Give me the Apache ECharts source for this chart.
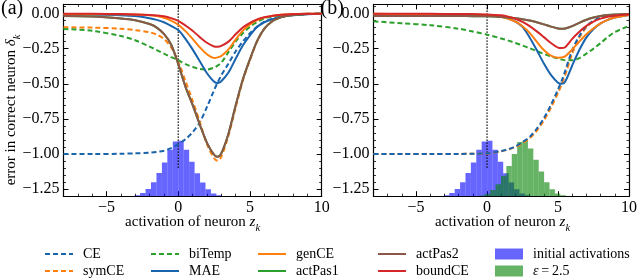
<!DOCTYPE html>
<html><head><meta charset="utf-8">
<script src="https://cdn.jsdelivr.net/npm/echarts@6/dist/echarts.min.js"></script>
<style>html,body{margin:0;padding:0;background:#fff}#c{width:640px;height:279px}</style>
</head><body><div id="c"></div>
<script>
// ---------- data ----------
const zA = [-8,-6,-4,-3,-2,-1.5,-1,-0.5,0,0.5,1,1.5,2,2.5,2.75,3,3.5,4,4.5,5,5.5,6,6.5,7,7.5,8,9,10];
const ceA     = [-1.000,-1.000,-0.998,-0.995,-0.990,-0.985,-0.976,-0.958,-0.930,-0.895,-0.845,-0.775,-0.665,-0.545,-0.490,-0.440,-0.355,-0.270,-0.200,-0.140,-0.092,-0.060,-0.038,-0.025,-0.016,-0.010,-0.004,-0.002];
const symA    = [-0.098,-0.100,-0.108,-0.118,-0.133,-0.150,-0.180,-0.240,-0.340,-0.480,-0.620,-0.770,-0.930,-1.030,-1.048,-1.020,-0.870,-0.670,-0.480,-0.330,-0.200,-0.110,-0.060,-0.032,-0.018,-0.010,-0.004,-0.001];
const biA     = [-0.110,-0.123,-0.160,-0.190,-0.235,-0.260,-0.285,-0.310,-0.332,-0.360,-0.380,-0.395,-0.398,-0.385,-0.370,-0.350,-0.275,-0.200,-0.140,-0.094,-0.060,-0.035,-0.022,-0.014,-0.009,-0.006,-0.002,-0.001];
const maeA    = [-0.005,-0.007,-0.012,-0.018,-0.033,-0.045,-0.062,-0.088,-0.118,-0.180,-0.255,-0.340,-0.425,-0.485,-0.495,-0.482,-0.420,-0.322,-0.228,-0.155,-0.096,-0.062,-0.042,-0.028,-0.018,-0.012,-0.005,-0.002];
const genA    = [-0.003,-0.004,-0.005,-0.007,-0.012,-0.018,-0.030,-0.050,-0.080,-0.125,-0.180,-0.240,-0.290,-0.316,-0.312,-0.302,-0.255,-0.185,-0.122,-0.077,-0.046,-0.028,-0.018,-0.011,-0.007,-0.004,-0.002,-0.001];
const pas2A   = [-0.018,-0.021,-0.035,-0.048,-0.075,-0.100,-0.145,-0.220,-0.360,-0.520,-0.650,-0.790,-0.920,-1.005,-1.020,-0.995,-0.855,-0.655,-0.470,-0.325,-0.195,-0.108,-0.058,-0.032,-0.018,-0.010,-0.004,-0.001];
const pas1A   = pas2A;
const boundA  = [-0.002,-0.002,-0.004,-0.006,-0.010,-0.014,-0.020,-0.033,-0.052,-0.085,-0.122,-0.168,-0.208,-0.234,-0.236,-0.230,-0.200,-0.148,-0.100,-0.067,-0.042,-0.026,-0.017,-0.011,-0.007,-0.004,-0.002,-0.001];

const zB = [-8,-6,-4,-2,-1,0,1,1.5,2,2.5,3,3.5,4,4.5,5,5.25,5.5,6,6.5,7,7.5,8,8.5,9,10];
const ceB     = [-1.000,-1.000,-1.000,-0.999,-0.998,-0.995,-0.978,-0.965,-0.945,-0.915,-0.878,-0.820,-0.745,-0.650,-0.540,-0.480,-0.410,-0.260,-0.160,-0.090,-0.052,-0.030,-0.019,-0.012,-0.004];
const symB    = [-1.000,-1.000,-1.000,-0.999,-0.998,-0.996,-0.980,-0.968,-0.950,-0.922,-0.888,-0.835,-0.762,-0.670,-0.565,-0.505,-0.440,-0.285,-0.172,-0.098,-0.056,-0.032,-0.020,-0.012,-0.004];
const biB     = [-0.055,-0.070,-0.083,-0.108,-0.128,-0.150,-0.178,-0.193,-0.210,-0.228,-0.247,-0.267,-0.287,-0.305,-0.320,-0.327,-0.332,-0.333,-0.318,-0.285,-0.250,-0.210,-0.168,-0.132,-0.088];
const maeB    = [-0.004,-0.004,-0.005,-0.007,-0.009,-0.012,-0.022,-0.035,-0.058,-0.095,-0.170,-0.260,-0.355,-0.437,-0.493,-0.500,-0.485,-0.370,-0.260,-0.170,-0.110,-0.070,-0.045,-0.028,-0.010];
const genB    = [-0.002,-0.003,-0.003,-0.005,-0.007,-0.011,-0.024,-0.037,-0.058,-0.090,-0.138,-0.200,-0.260,-0.300,-0.314,-0.313,-0.305,-0.255,-0.200,-0.148,-0.105,-0.070,-0.045,-0.028,-0.010];
const pas2B   = [-0.018,-0.018,-0.018,-0.018,-0.019,-0.020,-0.024,-0.028,-0.034,-0.041,-0.050,-0.062,-0.077,-0.093,-0.106,-0.109,-0.107,-0.090,-0.066,-0.044,-0.028,-0.017,-0.011,-0.007,-0.003];
const pas1B   = pas2B;
const boundB  = [-0.001,-0.001,-0.002,-0.003,-0.004,-0.006,-0.013,-0.022,-0.037,-0.060,-0.090,-0.127,-0.168,-0.210,-0.243,-0.246,-0.240,-0.180,-0.130,-0.088,-0.057,-0.036,-0.023,-0.015,-0.007];

// histograms: bin centres and bar heights (in y units above the bottom of the axis)
const histBinWidth = 0.38;
const initCenters = [-2.85,-2.47,-2.09,-1.71,-1.33,-0.95,-0.57,-0.19,0.19,0.57,0.95,1.33,1.71,2.09,2.47,2.85];
const initHeights = [0.006,0.022,0.052,0.100,0.165,0.240,0.330,0.390,0.395,0.330,0.245,0.163,0.098,0.050,0.020,0.006];
const epsCenters  = [-0.35,0.03,0.41,0.79,1.17,1.55,1.93,2.31,2.69,3.07,3.45,3.83,4.21,4.59,4.97,5.35];
const epsHeights  = [0.005,0.018,0.045,0.085,0.145,0.215,0.300,0.385,0.395,0.340,0.260,0.175,0.100,0.050,0.020,0.006];

// vertical dotted reference line at z = 0
const refLineZ = [0, 0];
const refLineV = [0.065, -1.10];

// axis ticks
const xMajor = [-5, 0, 5, 10];
const xMinor = [-8,-7,-6,-4,-3,-2,-1,1,2,3,4,6,7,8,9];
const yMajor = [-1.25, -1.00, -0.75, -0.50, -0.25, 0.00];
const yMinor = [-1.20,-1.15,-1.10,-1.05,-0.95,-0.90,-0.85,-0.80,-0.70,-0.65,-0.60,-0.55,-0.45,-0.40,-0.35,-0.30,-0.20,-0.15,-0.10,-0.05,0.05];

// legend entries (column-major, 5 columns x 2 rows)
const legendNames = ['CE','symCE','biTemp','MAE','genCE','actPas1','actPas2','boundCE','initial activations','ε=2.5'];

const X_MIN = -8, X_MAX = 10, Y_MIN = -1.30, Y_MAX = 0.065;

// ---------- style ----------
const FONT = 'Liberation Serif';
const C = {blue:'#1a63ad', orange:'#ff7f0e', green:'#2ca02c', brown:'#8c564b', red:'#d62728'};
const HIST_BLUE = 'rgba(0,0,255,0.6)';
const HIST_GREEN = 'rgba(0,128,0,0.6)';
const DASH = [5, 3];
const legendStyle = {
  'CE':{kind:'line', color:C.blue, dash:true},
  'symCE':{kind:'line', color:C.orange, dash:true},
  'biTemp':{kind:'line', color:C.green, dash:true},
  'MAE':{kind:'line', color:C.blue, dash:false},
  'genCE':{kind:'line', color:C.orange, dash:false},
  'actPas1':{kind:'line', color:C.green, dash:false},
  'actPas2':{kind:'line', color:C.brown, dash:false},
  'boundCE':{kind:'line', color:C.red, dash:false},
  'initial activations':{kind:'rect', color:HIST_BLUE},
  'ε=2.5':{kind:'rect', color:HIST_GREEN}
};

const grids = [
  {left: 63.5, top: 4.4, width: 258.2, height: 191.8},
  {left: 373.5, top: 4.4, width: 258.2, height: 191.8}
];

const minus = s => s.replace('-', '\u2212');
function xAxesFor(g) {
  const base = {type:'value', gridIndex:g, min:X_MIN, max:X_MAX, splitLine:{show:false}};
  const line = {show:true, onZero:false, lineStyle:{color:'#000', width:1.2}};
  const noLine = {show:false, onZero:false};
  return [
    Object.assign({}, base, {position:'bottom', axisLine:line,
      axisTick:{show:true, inside:true, length:5, customValues:xMajor, lineStyle:{color:'#000', width:1}},
      axisLabel:{show:true, customValues:xMajor, margin:4, color:'#000', fontFamily:FONT, fontSize:16,
        formatter: v => minus(String(v))}}),
    Object.assign({}, base, {position:'bottom', axisLine:noLine,
      axisTick:{show:true, inside:true, length:2.5, customValues:xMinor, lineStyle:{color:'#000', width:0.8}},
      axisLabel:{show:false}}),
    Object.assign({}, base, {position:'top', axisLine:line,
      axisTick:{show:true, inside:true, length:5, customValues:xMajor, lineStyle:{color:'#000', width:1}},
      axisLabel:{show:false}}),
    Object.assign({}, base, {position:'top', axisLine:noLine,
      axisTick:{show:true, inside:true, length:2.5, customValues:xMinor, lineStyle:{color:'#000', width:0.8}},
      axisLabel:{show:false}})
  ];
}
function yAxesFor(g) {
  const base = {type:'value', gridIndex:g, min:Y_MIN, max:Y_MAX, splitLine:{show:false}};
  const line = {show:true, onZero:false, lineStyle:{color:'#000', width:1.2}};
  const noLine = {show:false, onZero:false};
  return [
    Object.assign({}, base, {position:'left', axisLine:line,
      axisTick:{show:true, inside:true, length:5, customValues:yMajor, lineStyle:{color:'#000', width:1}},
      axisLabel:{show:true, customValues:yMajor, margin:4, color:'#000', fontFamily:FONT, fontSize:16,
        formatter: v => minus(v.toFixed(2))}}),
    Object.assign({}, base, {position:'left', axisLine:noLine,
      axisTick:{show:true, inside:true, length:2.5, customValues:yMinor, lineStyle:{color:'#000', width:0.8}},
      axisLabel:{show:false}}),
    Object.assign({}, base, {position:'right', axisLine:line,
      axisTick:{show:true, inside:true, length:5, customValues:yMajor, lineStyle:{color:'#000', width:1}},
      axisLabel:{show:false}}),
    Object.assign({}, base, {position:'right', axisLine:noLine,
      axisTick:{show:true, inside:true, length:2.5, customValues:yMinor, lineStyle:{color:'#000', width:0.8}},
      axisLabel:{show:false}})
  ];
}

function lineS(name, zs, vs, g) {
  const st = legendStyle[name];
  return {type:'line', name, xAxisIndex:g*4, yAxisIndex:g*4,
    data: zs.map((z, i) => [z, vs[i]]), symbol:'none', showSymbol:false, smooth:0.3,
    lineStyle:{color:st.color, width:2, type: st.dash ? DASH : 'solid'}, itemStyle:{color:st.color},
    silent:true, emphasis:{disabled:true}};
}
function histS(name, centers, heights, g) {
  const color = legendStyle[name].color;
  return {type:'custom', name, xAxisIndex:g*4, yAxisIndex:g*4, clip:true, silent:true,
    itemStyle:{color},
    encode:{x:0, y:1},
    data: centers.map((c, i) => [c, heights[i]]),
    renderItem: (params, api) => {
      const c = api.value(0), h = api.value(1);
      const p0 = api.coord([c - histBinWidth / 2, Y_MIN + h]);
      const p1 = api.coord([c + histBinWidth / 2, Y_MIN]);
      return {type:'rect', shape:{x:p0[0], y:p0[1], width:p1[0]-p0[0], height:p1[1]-p0[1]},
        style:{fill:color}};
    }};
}
function refS(g) {
  return {type:'line', name:'ref', xAxisIndex:g*4, yAxisIndex:g*4,
    data: refLineZ.map((z, i) => [z, refLineV[i]]), symbol:'none', silent:true,
    lineStyle:{color:'#000', width:1.4, type:[1.4, 1.6]}};
}

const series = [
  histS('initial activations', initCenters, initHeights, 0),
  refS(0),
  lineS('CE', zA, ceA, 0),
  lineS('symCE', zA, symA, 0),
  lineS('biTemp', zA, biA, 0),
  lineS('MAE', zA, maeA, 0),
  lineS('genCE', zA, genA, 0),
  lineS('actPas1', zA, pas1A, 0),
  lineS('actPas2', zA, pas2A, 0),
  lineS('boundCE', zA, boundA, 0),

  histS('initial activations', initCenters, initHeights, 1),
  histS('ε=2.5', epsCenters, epsHeights, 1),
  refS(1),
  lineS('symCE', zB, symB, 1),
  lineS('CE', zB, ceB, 1),
  lineS('biTemp', zB, biB, 1),
  lineS('MAE', zB, maeB, 1),
  lineS('genCE', zB, genB, 1),
  lineS('actPas1', zB, pas1B, 1),
  lineS('actPas2', zB, pas2B, 1),
  lineS('boundCE', zB, boundB, 1)
];

// ---------- legend drawn as graphic elements (5 columns x 2 rows) ----------
const legendColLeft = [45, 151, 258, 378, 495];
const legendRowY = [254, 271];
const legendItemW = 28;
const legendGraphics = [];
legendNames.forEach((name, k) => {
  const col = Math.floor(k / 2), row = k % 2;
  const x = legendColLeft[col], y = legendRowY[row];
  const st = legendStyle[name];
  if (st.kind === 'line') {
    legendGraphics.push({type:'line', silent:true,
      shape:{x1:x, y1:y, x2:x + legendItemW, y2:y},
      style:{stroke:st.color, lineWidth:2, lineDash: st.dash ? DASH : null}});
  } else {
    legendGraphics.push({type:'rect', silent:true,
      shape:{x:x, y:y - 5.5, width:legendItemW, height:11}, style:{fill:st.color}});
  }
  const txt = name === 'ε=2.5' ? '{i|ε}{n|\u2009=\u20092.5}' : '{n|' + name + '}';
  legendGraphics.push({type:'text', silent:true, x:x + legendItemW + 10, y:y,
    style:{text:txt, align:'left', verticalAlign:'middle',
      rich:{n:{fontFamily:FONT, fontSize:14, fill:'#000'}, i:{fontFamily:FONT, fontSize:14, fontStyle:'italic', fill:'#000'}}}});
});

const labelRich = {
  n:{fontFamily:FONT, fontSize:15, fill:'#000', lineHeight:18},
  i:{fontFamily:FONT, fontSize:15, fontStyle:'italic', fill:'#000', lineHeight:18},
  s:{fontFamily:FONT, fontSize:10.5, fontStyle:'italic', fill:'#000', lineHeight:18, verticalAlign:'bottom', padding:[0,0,-3,0]}
};
const graphics = [
  {type:'text', x:11, y:110, rotation:Math.PI/2,
    style:{text:'{n|error in correct neuron }{i|δ}{s|k}', rich:labelRich, align:'center', verticalAlign:'middle'}},
  {type:'text', x:192.6, y:222,
    style:{text:'{n|activation of neuron }{i|z}{s|k}', rich:labelRich, align:'center', verticalAlign:'middle'}},
  {type:'text', x:502.6, y:222,
    style:{text:'{n|activation of neuron }{i|z}{s|k}', rich:labelRich, align:'center', verticalAlign:'middle'}},
  {type:'text', x:1, y:9,
    style:{text:'(a)', fontFamily:FONT, fontSize:20, fill:'#000', align:'left', verticalAlign:'middle'}},
  {type:'text', x:320.5, y:9,
    style:{text:'(b)', fontFamily:FONT, fontSize:20, fill:'#000', align:'left', verticalAlign:'middle'}}
].concat(legendGraphics);

const chart = echarts.init(document.getElementById('c'), null, {renderer:'canvas'});
chart.setOption({
  animation:false,
  backgroundColor:'#fff',
  grid: grids,
  xAxis: xAxesFor(0).concat(xAxesFor(1)),
  yAxis: yAxesFor(0).concat(yAxesFor(1)),
  graphic: graphics,
  series: series
});
</script></body></html>
